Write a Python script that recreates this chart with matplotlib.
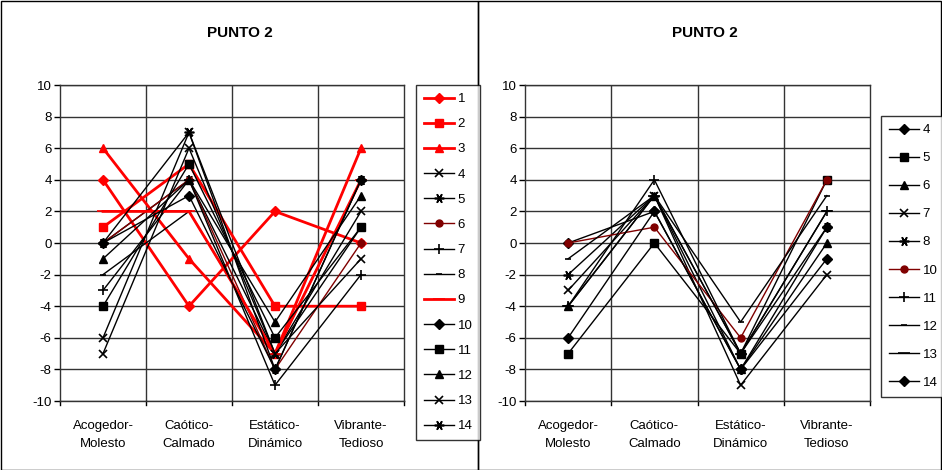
import matplotlib.pyplot as plt
from matplotlib.patches import Rectangle

plt.rcParams['font.family'] = ['Liberation Sans', 'DejaVu Sans']
plt.rcParams['axes.unicode_minus'] = False

categories = ["Acogedor-\nMolesto", "Caótico-\nCalmado", "Estático-\nDinámico", "Vibrante-\nTedioso"]
y_ticks = list(range(-10, 11, 2))
title = "PUNTO 2"

# left chart: all 14 respondents
left_labels = ["1", "2", "3", "4", "5", "6", "7", "8", "9", "10", "11", "12", "13", "14"]
left_values = [
    [4, -4, 2, 0],
    [1, 5, -4, -4],
    [6, -1, -7, 6],
    [-6, 7, -7, 2],
    [0, 4, -7, 4],
    [0, 4, -8, 0],
    [-3, 4, -9, -2],
    [-2, 2, -7, 1],
    [2, 2, -7, 4],
    [0, 3, -8, 4],
    [-4, 5, -6, 1],
    [-1, 4, -5, 3],
    [-7, 6, -7, -1],
    [0, 7, -8, 4],
]

# right chart: without respondents 1, 2, 3 and 9
right_labels = ["4", "5", "6", "7", "8", "10", "11", "12", "13", "14"]
right_values = [
    [0, 2, -8, 1],
    [-7, 0, -7, 4],
    [-4, 3, -8, 0],
    [-3, 3, -9, -2],
    [-2, 3, -7, 1],
    [0, 1, -6, 4],
    [-4, 4, -7, 2],
    [-1, 3, -5, 3],
    [-4, 3, -7, 2],
    [-6, 2, -8, -1],
]

# Excel-like marker cycle
STAR = (6, 2, 90)
marker_cycle = [("D", 5), ("s", 6), ("^", 6), ("x", 6), (STAR, 7), ("o", 5),
                ("+", 7), ("_", 4), ("_", 8), ("D", 5), ("s", 6), ("^", 6),
                ("x", 6), (STAR, 7)]

left_colors = ["#ff0000", "#ff0000", "#ff0000", "black", "black", "#800000", "black",
               "black", "#ff0000", "black", "black", "black", "black", "black"]
left_widths = [2, 2, 2, 1, 1, 1, 1, 1, 2, 1, 1, 1, 1, 1]
right_colors = ["black"] * 5 + ["#800000"] + ["black"] * 4
right_widths = [1] * 10

fig = plt.figure(figsize=(9.42, 4.70), dpi=100)

# panel frames
fig.add_artist(Rectangle((0.5 / 942, 0.5 / 470), 477.5 / 942, 468.5 / 470,
                         transform=fig.transFigure, fill=False, lw=1, ec="black"))
fig.add_artist(Rectangle((478 / 942, 0.5 / 470), 463 / 942, 468.5 / 470,
                         transform=fig.transFigure, fill=False, lw=1, ec="black"))


def draw_panel(x0, x1, values, labels, colors, widths, legend_box, spacing, title_x):
    ax = fig.add_axes([x0 / 942, 69 / 470, (x1 - x0) / 942, 316 / 470])
    xs = list(range(len(categories)))
    handles = []
    for i, (vals, lab, col, lw) in enumerate(zip(values, labels, colors, widths)):
        mk, ms = marker_cycle[i]
        ln, = ax.plot(xs, vals, color=col, lw=lw, marker=mk, markersize=ms,
                      markeredgewidth=1.2 if mk in ("x", "+", "_") or mk == STAR else 1,
                      markerfacecolor=col, markeredgecolor=col, label=lab, zorder=3 + i)
        handles.append(ln)
    ax.set_xlim(-0.5, len(categories) - 0.5)
    ax.set_ylim(-10, 10)
    ax.set_yticks(y_ticks)
    ax.set_xticks(xs)
    ax.set_xticklabels(categories, fontsize=9.5, linespacing=1.6)
    ax.tick_params(axis="x", length=0, pad=14)
    ax.tick_params(axis="y", length=4, width=1, labelsize=9.5, pad=2)
    for v in y_ticks:
        ax.axhline(v, color="#333333", lw=1, zorder=1)
    for b in [0.5, 1.5, 2.5]:
        ax.axvline(b, color="#333333", lw=1, zorder=1)
    # category tick marks below the axis
    for b in [-0.5, 0.5, 1.5, 2.5, 3.5]:
        ax.plot([b, b], [-10, -10.25], color="black", lw=1, clip_on=False)
    for s in ax.spines.values():
        s.set_color("#333333")
        s.set_linewidth(1)
    fig.text(title_x / 942, 1 - 33 / 470, title, ha="center", va="center",
             fontsize=11, fontweight="bold")
    lx, ly = legend_box
    leg = fig.legend(handles=handles, loc="upper left",
                     bbox_to_anchor=(lx / 942, 1 - ly / 470),
                     bbox_transform=fig.transFigure, borderaxespad=0,
                     frameon=True, fancybox=False, edgecolor="black",
                     fontsize=9.5, handlelength=2.3, handletextpad=0.25,
                     labelspacing=spacing, borderpad=0.6)
    leg.get_frame().set_linewidth(1)
    return ax


draw_panel(60, 404, left_values, left_labels, left_colors, left_widths,
           (416, 85), 0.98, 240)
draw_panel(525, 870, right_values, right_labels, right_colors, right_widths,
           (881, 116), 1.2, 705)

fig.savefig("out.png", dpi=100)
